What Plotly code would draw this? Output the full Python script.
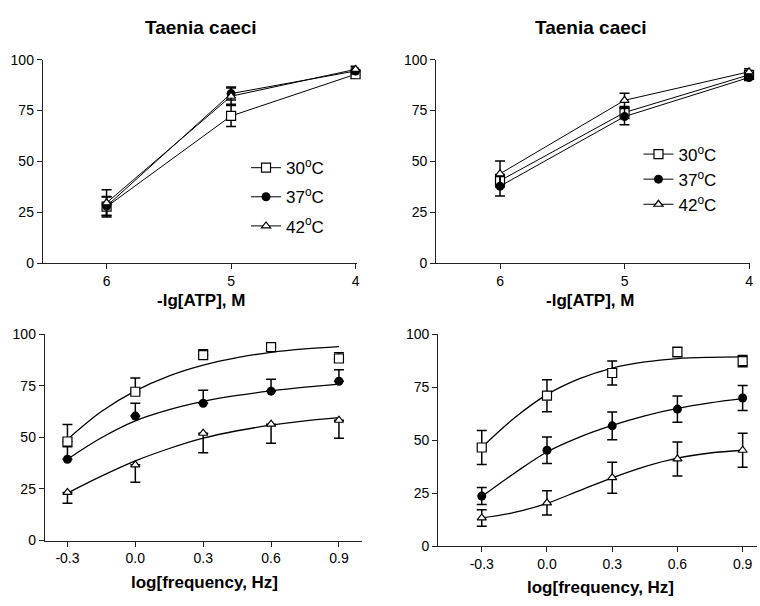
import plotly.graph_objects as go

# ---------------- data ----------------
atp_x = [6, 5, 4]
# top-left panel (ATP), Taenia caeci
tl_30 = [27.7, 72.3, 92.8]
tl_30_err = [5.0, 5.2, 2.0]
tl_37 = [28.0, 83.3, 94.4]
tl_37_err = [4.5, 3.2, 1.5]
tl_42 = [29.6, 82.0, 95.2]
tl_42_err = [6.4, 4.0, 1.5]

# top-right panel
tr_30 = [40.5, 74.0, 92.5]
tr_30_err = [3.0, 3.0, 2.0]
tr_37 = [37.8, 72.0, 91.2]
tr_37_err = [4.8, 4.0, 1.5]
tr_42 = [43.9, 80.0, 94.0]
tr_42_err = [6.3, 3.5, 1.5]

freq_x = [-0.3, 0.0, 0.3, 0.6, 0.9]
# bottom-left panel (frequency)
bl_30 = [48.0, 72.1, 89.8, 93.7, 88.2]
bl_30_err = [8.2, 6.6, 2.6, 1.0, 2.8]
bl_37 = [39.4, 60.3, 66.5, 72.4, 77.2]
bl_37_err = [6.0, 6.2, 6.3, 5.7, 5.6]
bl_42 = [23.3, 36.7, 52.0, 56.4, 58.3]
bl_42_err = [5.2, 8.4, 9.5, 9.2, 8.7]
# fitted curves
curve_x = [-0.3, -0.15, 0.0, 0.15, 0.3, 0.45, 0.6, 0.75, 0.9]
bl_30_fit = [49.0, 62.5, 72.5, 79.8, 85.0, 88.6, 91.2, 92.9, 94.0]
bl_37_fit = [39.4, 49.8, 58.0, 63.4, 67.4, 70.3, 72.5, 74.3, 75.8]
bl_42_fit = [23.0, 31.2, 38.6, 44.6, 49.6, 53.2, 55.9, 58.0, 59.6]

# bottom-right panel
br_30 = [46.6, 71.0, 81.7, 91.6, 87.3]
br_30_err = [8.0, 7.5, 5.6, 2.2, 2.6]
br_37 = [23.7, 45.3, 56.8, 64.7, 69.9]
br_37_err = [4.0, 6.2, 6.5, 6.2, 5.9]
br_42 = [13.4, 20.5, 32.4, 41.2, 45.3]
br_42_err = [3.9, 5.7, 7.3, 8.0, 8.0]
br_30_fit = [46.6, 60.5, 71.5, 79.0, 84.0, 86.9, 88.5, 89.1, 89.3]
br_37_fit = [23.5, 34.5, 44.5, 51.5, 57.0, 61.5, 65.0, 67.6, 69.6]
br_42_fit = [13.4, 16.0, 20.3, 26.3, 32.3, 37.6, 41.6, 44.0, 45.3]

ytick_vals = [0, 25, 50, 75, 100]
atp_ticks = [6, 5, 4]
freq_ticks = [-0.3, 0.0, 0.3, 0.6, 0.9]
freq_labels = ["-0.3", "0.0", "0.3", "0.6", "0.9"]
series_names = ["30<sup>o</sup>C", "37<sup>o</sup>C", "42<sup>o</sup>C"]

# ---------------- styling ----------------
FONT = "Liberation Sans, Arial, sans-serif"
fill_sym = {
    0: dict(symbol="square", size=9, color="white", line=dict(width=1.2, color="black")),
    1: dict(symbol="circle", size=9, color="black", line=dict(width=0, color="black")),
    2: dict(symbol="triangle-up", size=8, color="white", line=dict(width=1.2, color="black")),
}

fig = go.Figure()


def err(vals, minus=None):
    d = dict(type="data", array=vals, visible=True, color="black",
             thickness=1.5, width=5)
    if minus is not None:
        d["symmetric"] = False
        d["arrayminus"] = minus
    return d


# top panels
for ax_i, (s30, e30, s37, e37, s42, e42, leg) in enumerate([
    (tl_30, tl_30_err, tl_37, tl_37_err, tl_42, tl_42_err, "legend"),
    (tr_30, tr_30_err, tr_37, tr_37_err, tr_42, tr_42_err, "legend2"),
]):
    xa = "x" if ax_i == 0 else "x2"
    ya = "y" if ax_i == 0 else "y2"
    for k, (yv, ev) in enumerate([(s30, e30), (s37, e37), (s42, e42)]):
        fig.add_trace(go.Scatter(
            x=atp_x, y=yv, mode="lines+markers", name=series_names[k],
            line=dict(color="black", width=1), marker=fill_sym[k],
            error_y=err(ev), xaxis=xa, yaxis=ya, legend=leg,
            legendgroup=f"{leg}{k}", cliponaxis=False,
        ))

# bottom panels
zero5 = [0, 0, 0, 0, 0]
for ax_i, (pts, fits) in enumerate([
    ([(bl_30, err(bl_30_err, zero5)), (bl_37, err(bl_37_err, zero5)), (bl_42, err(zero5, bl_42_err))],
     [bl_30_fit, bl_37_fit, bl_42_fit]),
    ([(br_30, err(br_30_err)), (br_37, err(br_37_err)), (br_42, err(br_42_err))],
     [br_30_fit, br_37_fit, br_42_fit]),
]):
    xa = "x3" if ax_i == 0 else "x4"
    ya = "y3" if ax_i == 0 else "y4"
    for k in range(3):
        fig.add_trace(go.Scatter(
            x=curve_x, y=fits[k], mode="lines", line=dict(color="black", width=1.3, shape="spline"),
            xaxis=xa, yaxis=ya, showlegend=False, hoverinfo="skip",
        ))
    for k, (yv, e) in enumerate(pts):
        fig.add_trace(go.Scatter(
            x=freq_x, y=yv, mode="markers", marker=fill_sym[k], error_y=e,
            xaxis=xa, yaxis=ya, showlegend=False, cliponaxis=False,
        ))

axis_common = dict(showline=True, linecolor="#222", linewidth=1.2, ticks="outside",
                   ticklen=5, tickwidth=1.2, tickcolor="#222", showgrid=False,
                   zeroline=False, tickfont=dict(family=FONT, size=14, color="black"))

W, H = 760, 606


def dx(a, b):
    return [a / W, b / W]


def dy(top, bottom):
    return [(H - bottom) / H, (H - top) / H]


fig.update_layout(
    width=W, height=H, margin=dict(l=0, r=0, t=0, b=0),
    plot_bgcolor="white", paper_bgcolor="white",
    font=dict(family=FONT, color="black"),
    xaxis=dict(domain=dx(43, 358), range=[6.512, 3.992], tickvals=atp_ticks, anchor="y", **axis_common),
    yaxis=dict(domain=dy(53, 262), range=[0, 100], tickvals=ytick_vals, anchor="x", **axis_common),
    xaxis2=dict(domain=dx(438, 753), range=[6.512, 3.992], tickvals=atp_ticks, anchor="y2", **axis_common),
    yaxis2=dict(domain=dy(53, 262), range=[0, 100], tickvals=ytick_vals, anchor="x2", **axis_common),
    xaxis3=dict(domain=dx(45, 363), range=[-0.4, 1.0], tickvals=freq_ticks, ticktext=freq_labels,
                anchor="y3", **axis_common),
    yaxis3=dict(domain=dy(335, 547), range=[0, 100], tickvals=ytick_vals, anchor="x3", **axis_common),
    xaxis4=dict(domain=dx(440, 760), range=[-0.5, 0.966], tickvals=freq_ticks, ticktext=freq_labels,
                anchor="y4", **axis_common),
    yaxis4=dict(domain=dy(335, 553), range=[0, 100], tickvals=ytick_vals, anchor="x4", **axis_common),
    legend=dict(x=247 / W, y=1 - 146 / H, xanchor="left", yanchor="top",
                bgcolor="rgba(0,0,0,0)", font=dict(family=FONT, size=17),
                traceorder="grouped", tracegroupgap=4, itemwidth=30),
    legend2=dict(x=641 / W, y=1 - 132 / H, xanchor="left", yanchor="top",
                 bgcolor="rgba(0,0,0,0)", font=dict(family=FONT, size=17),
                 traceorder="grouped", tracegroupgap=0, itemwidth=30),
)

annots = [
    ("Taenia caeci", 202, 20, 19),
    ("Taenia caeci", 593, 20, 19),
    ("-lg[ATP], M", 202, 300, 17),
    ("-lg[ATP], M", 592, 300, 17),
    ("log[frequency, Hz]", 205, 590, 17),
    ("log[frequency, Hz]", 603, 595, 17),
]
for txt, x, y, s in annots:
    fig.add_annotation(text=f"<b>{txt}</b>", x=x / W, y=1 - y / H, xref="paper", yref="paper",
                       xanchor="center", yanchor="middle", showarrow=False,
                       font=dict(family=FONT, size=s, color="black"))

fig.write_html("out.html",
               post_script="document.body.style.margin='0';document.body.style.overflow='hidden';",
               config={"displayModeBar": False})
